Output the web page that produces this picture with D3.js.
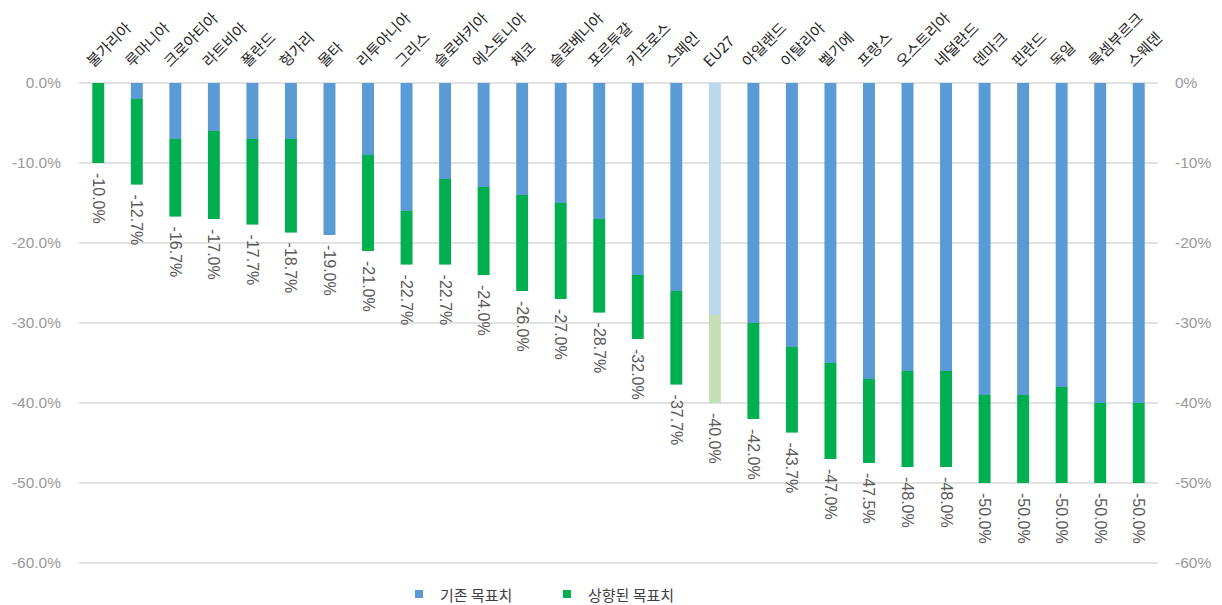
<!DOCTYPE html>
<html><head><meta charset="utf-8">
<script src="https://cdn.jsdelivr.net/npm/d3@7"></script>
<style>
body{margin:0;background:#fff;}
svg{display:block;font-family:"Liberation Sans","Noto Sans CJK KR",sans-serif;}
</style></head>
<body><svg id="chart" width="1222" height="605"></svg>
<script>
const categories = ["불가리아","루마니아","크로아티아","라트비아","폴란드","헝가리","몰타","리투아니아","그리스","슬로바키아","에스토니아","체코","슬로베니아","포르투갈","키프로스","스페인","EU27","아일랜드","이탈리아","벨기에","프랑스","오스트리아","네덜란드","덴마크","핀란드","독일","룩셈부르크","스웨덴"];
const baseTarget = [0,-2,-7,-6,-7,-7,-19,-9,-16,-12,-13,-14,-15,-17,-24,-26,-29,-30,-33,-35,-37,-36,-36,-39,-39,-38,-40,-40];
const raisedTarget = [-10,-12.7,-16.7,-17,-17.7,-18.7,-19,-21,-22.7,-22.7,-24,-26,-27,-28.7,-32,-37.7,-40,-42,-43.7,-47,-47.5,-48,-48,-50,-50,-50,-50,-50];
const yTicks = [0,-10,-20,-30,-40,-50,-60];
const seriesNames = ["기존 목표치","상향된 목표치"];

const colors = {blue:"#5b9bd5", green:"#00b050", blueLight:"#bdd7ee", greenLight:"#c5e0b4"};
const svg = d3.select("#chart");
const x = d3.scaleBand().domain(categories).range([79,1158]).paddingInner(0.69).paddingOuter(0.345);
const y = d3.scaleLinear().domain([0,-60]).range([83,563]);

// gridlines
svg.append("g").selectAll("line").data(yTicks).join("line")
  .attr("x1",79).attr("x2",1158).attr("y1",d=>y(d)).attr("y2",d=>y(d))
  .attr("stroke","#d9d9d9").attr("stroke-width",1.5);

// axes
const left = svg.append("g").attr("transform","translate(79,0)")
  .call(d3.axisLeft(y).tickValues(yTicks).tickSize(0).tickPadding(18).tickFormat(d=>d.toFixed(1)+"%"));
const right = svg.append("g").attr("transform","translate(1158,0)")
  .call(d3.axisRight(y).tickValues(yTicks).tickSize(0).tickPadding(17).tickFormat(d=>d+"%"));
[left,right].forEach(g=>{
  g.select(".domain").remove();
  g.selectAll("text").attr("fill","#999999").style("font-size","15.5px");
});

const data = categories.map((c,i)=>({c, base:baseTarget[i], raised:raisedTarget[i], eu:c==="EU27"}));
const bw = x.bandwidth();
// blue (existing target)
svg.append("g").selectAll("rect").data(data).join("rect")
  .attr("x",d=>x(d.c)).attr("width",bw)
  .attr("y",y(0)).attr("height",d=>y(d.base)-y(0))
  .attr("fill",d=>d.eu?colors.blueLight:colors.blue);
// green (raised increment)
svg.append("g").selectAll("rect").data(data).join("rect")
  .attr("x",d=>x(d.c)).attr("width",bw)
  .attr("y",d=>y(d.base)).attr("height",d=>y(d.raised)-y(d.base))
  .attr("fill",d=>d.eu?colors.greenLight:colors.green);

// value labels
svg.append("g").selectAll("text").data(data).join("text")
  .attr("transform",d=>`translate(${x(d.c)+bw/2},${y(d.raised)+10}) rotate(90)`)
  .attr("dominant-baseline","central")
  .attr("fill","#595959").style("font-size","16px")
  .text(d=>d.raised.toFixed(1)+"%");

// category labels
const cg = svg.append("g").selectAll("g").data(categories).join("g")
  .attr("transform",d=>"translate(" + (x(d)+bw/2-5) + ",68) rotate(-45)");
cg.append("text")
  .attr("x",0).attr("y",0)
  .attr("fill","#262626").style("font-size","15px")
  .style("font-family","'Noto Sans CJK KR',sans-serif")
  .text(d=>d);

// legend
const lg = svg.append("g");
const items = [{n:seriesNames[0],c:colors.blue,x:415},{n:seriesNames[1],c:colors.green,x:563}];
items.forEach(it=>{
  lg.append("rect").attr("x",it.x).attr("y",590).attr("width",8).attr("height",8).attr("fill",it.c);
  lg.append("text").attr("x",it.x+25).attr("y",594).attr("dominant-baseline","central")
    .attr("fill","#404040").style("font-size","15px").style("font-family","'Noto Sans CJK KR',sans-serif").text(it.n);
});
</script></body></html>
